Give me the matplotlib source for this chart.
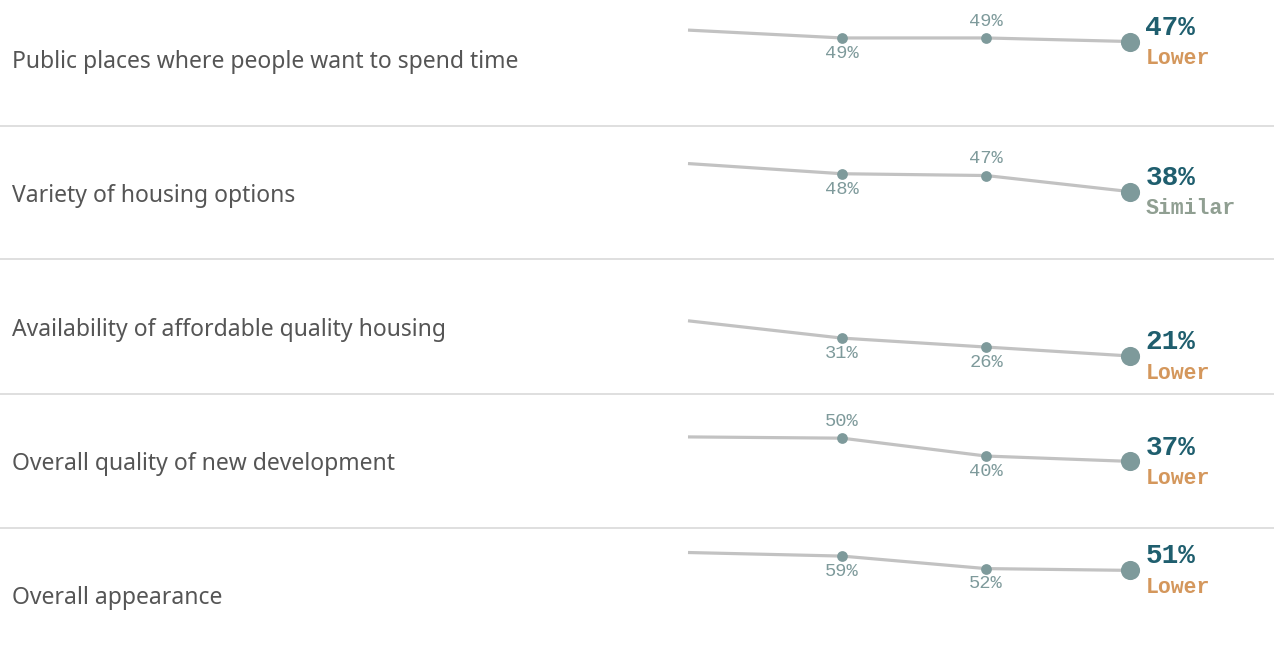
import matplotlib

matplotlib.use('Agg')
import matplotlib.pyplot as plt

# Dati
categorie = [
    "Public places where people want to spend time",
    "Variety of housing options",
    "Availability of affordable quality housing",
    "Overall quality of new development",
    "Overall appearance",
]
# posizione delle rilevazioni sull'asse (la prima parte appena prima dell'onda 1)
onde = [-0.07, 1, 2, 3]
valori_inizio = [53.4, 53.7, 40.7, 50.7, 61.0]
valori_onda2 = [49, 48, 31, 50, 59]
valori_onda3 = [49, 47, 26, 40, 52]
valori_ultimi = [47, 38, 21, 37, 51]
confronto = ["Lower", "Similar", "Lower", "Lower", "Lower"]
# posizione etichette dei punti intermedi: 1 = sopra, -1 = sotto
lato_onda2 = [-1, -1, -1, 1, -1]
lato_onda3 = [1, 1, -1, -1, -1]

W, H = 1274, 656
fig = plt.figure(figsize=(W / 100, H / 100), dpi=100)
fig.patch.set_facecolor('white')

col_linea = '#c2c2c2'
col_punto = '#7e9a9b'
col_valore = '#1f5e6e'
col_testo = '#555555'
col_stato = {'Lower': '#d4975c', 'Similar': '#909f92'}

banda = 134
inizio = -8.5
x_sx, x_dx = 688, 1130
mono = 'Liberation Mono'

for i, nome in enumerate(categorie):
    top = inizio + banda * i
    ax = fig.add_axes([x_sx / W, 1 - (top + banda) / H, (x_dx - x_sx) / W, banda / H])
    ax.set_xlim(onde[0], onde[-1])
    ax.set_ylim(0, 75)
    ax.axis('off')

    serie = [valori_inizio[i], valori_onda2[i], valori_onda3[i], valori_ultimi[i]]
    ax.plot(onde, serie, color=col_linea, lw=2.3, solid_capstyle='butt', zorder=1, clip_on=False)
    ax.scatter(onde[1:3], serie[1:3], s=60, color=col_punto, zorder=2, clip_on=False, linewidths=0)
    ax.scatter([onde[3]], [serie[3]], s=190, color=col_punto, zorder=2, clip_on=False, linewidths=0)

    for x, v, lato in [(onde[1], valori_onda2[i], lato_onda2[i]), (onde[2], valori_onda3[i], lato_onda3[i])]:
        ax.annotate(f"{v}%", (x, v), xytext=(0, 11.5 * lato + 0.5), textcoords='offset points',
                    ha='center', va='center', fontsize=13.5, family=mono, color=col_punto)

    ax.annotate(f"{valori_ultimi[i]}%", (onde[3], valori_ultimi[i]), xytext=(11, 10),
                textcoords='offset points', ha='left', va='center', fontsize=20,
                family=mono, fontweight='bold', color=col_valore)
    ax.annotate(confronto[i], (onde[3], valori_ultimi[i]), xytext=(11, -12.5),
                textcoords='offset points', ha='left', va='center', fontsize=15.5,
                family=mono, fontweight='bold', color=col_stato[confronto[i]])

    fig.text(12 / W, 1 - (top + banda / 2 + 4) / H, nome, ha='left', va='center',
             fontsize=16.5, family='Noto Sans', color=col_testo)

    if i < len(categorie) - 1:
        y_sep = 1 - (top + banda) / H
        fig.add_artist(plt.Line2D([0, 1], [y_sep, y_sep], color='#d9d9d9', lw=1.2))

fig.savefig('out.png', dpi=100, facecolor='white')
